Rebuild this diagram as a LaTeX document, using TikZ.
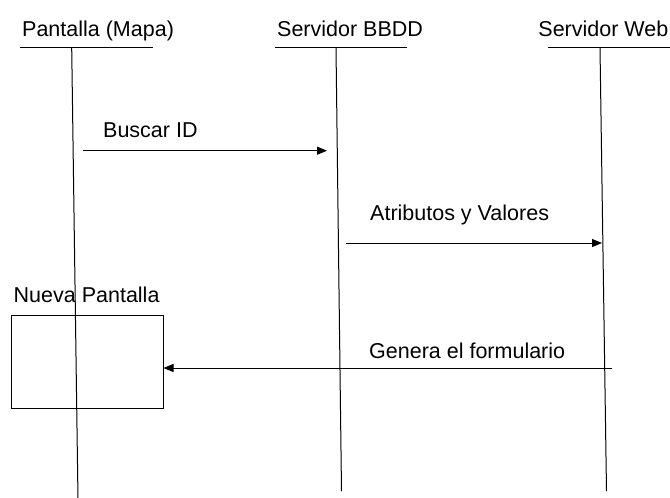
\documentclass[tikz,border=0pt]{standalone}
\usepackage{fontspec}
\setmainfont{Liberation Sans}
\usetikzlibrary{arrows.meta}
\begin{document}
\begin{tikzpicture}[x=1pt,y=-1pt,
  lbl/.style={anchor=base west,inner sep=0pt,font=\fontsize{21.5}{24}\selectfont},
  line/.style={line width=1pt,black},
  msg/.style={line width=1pt,-{Triangle[length=10pt,width=8pt]}},
  screenbox/.style={draw,line width=1pt,rectangle,inner sep=0pt,minimum width=152pt,minimum height=93pt}]
\useasboundingbox (0,0) rectangle (670,498);
% headers
\node[lbl] (t1) at (22,36.7) {Pantalla (Mapa)};
\node[lbl] (t2) at (277,36.7) {Servidor BBDD};
\node[lbl,anchor=base east] (t3) at (668.5,36.7) {Servidor Web};
% header underlines
\coordinate (u1a) at (20,47.7);  \coordinate (u1b) at (153,47.7);
\coordinate (u2a) at (275,47.7); \coordinate (u2b) at (407,47.7);
\coordinate (u3a) at (548,47.7); \coordinate (u3b) at (672,47.7);
\draw[line] (u1a) -- (u1b);
\draw[line] (u2a) -- (u2b);
\draw[line] (u3a) -- (u3b);
% lifelines
\coordinate (l1t) at (71.7,47.7); \coordinate (l1b) at (78,500);
\coordinate (l2t) at (336,47.7);  \coordinate (l2b) at (341.5,491);
\coordinate (l3t) at (600,47.7);  \coordinate (l3b) at (606.5,491);
\draw[line] (l1t) -- (l1b);
\draw[line] (l2t) -- (l2b);
\draw[line] (l3t) -- (l3b);
% box
\node[screenbox] (box) at (87,361.5) {};
\node[lbl] (nb) at (13.5,302.7) {Nueva Pantalla};
% messages
\node[lbl] (m1) at (103,137.7) {Buscar ID};
\coordinate (a1s) at (82.7,150.7); \coordinate (a1e) at (327,150.7);
\draw[msg] (a1s) -- (a1e);
\node[lbl] (m2) at (370,220) {Atributos y Valores};
\coordinate (a2s) at (346,243); \coordinate (a2e) at (602,243);
\draw[msg] (a2s) -- (a2e);
\node[lbl] (m3) at (369,358) {Genera el formulario};
\coordinate (a3s) at (612,368);
\draw[msg] (a3s) -- (box.east |- a3s);
\end{tikzpicture}
\end{document}
